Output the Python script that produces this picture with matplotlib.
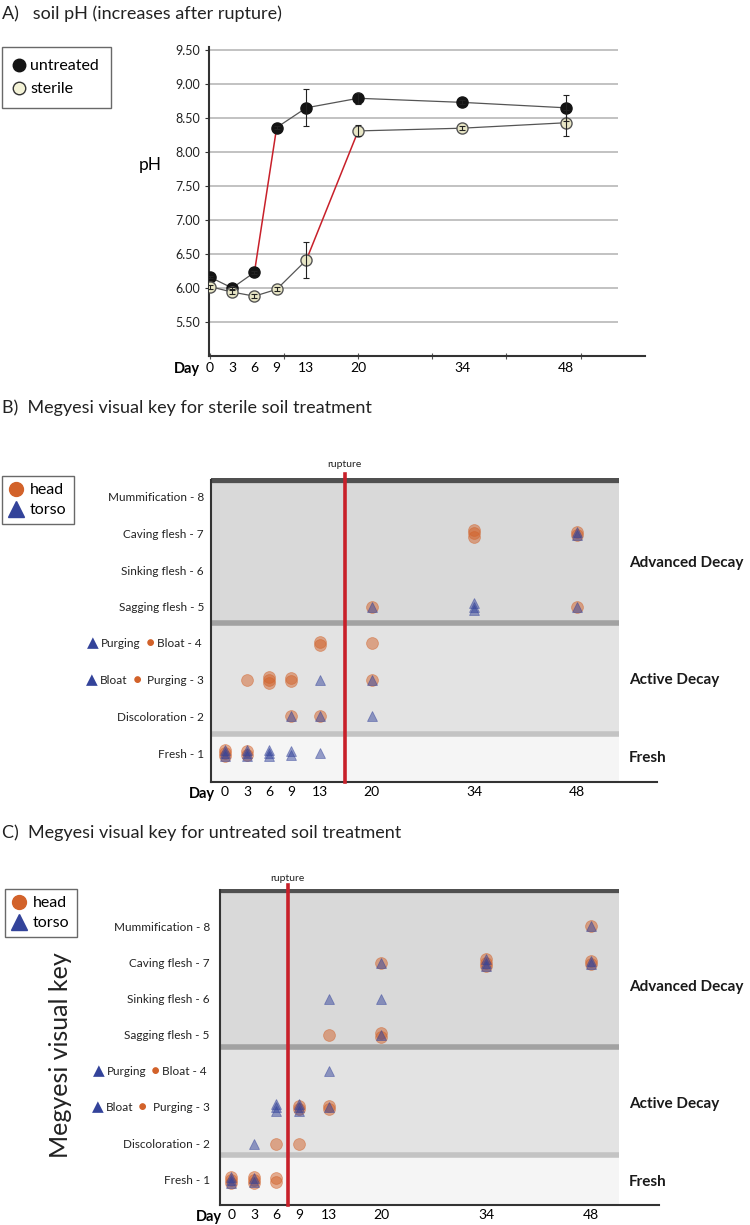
import numpy as np
import matplotlib
matplotlib.use("Agg")
import matplotlib.pyplot as plt
from matplotlib.lines import Line2D
from matplotlib.patches import Rectangle
from matplotlib.offsetbox import TextArea, HPacker, AnnotationBbox

plt.rcParams['font.family'] = ['Lato', 'DejaVu Sans']

# ---- panel A: soil pH ----
days = [0, 3, 6, 9, 13, 20, 34, 48]
ph_untreated = [6.16, 6.00, 6.23, 8.36, 8.65, 8.79, 8.73, 8.65]
ph_untreated_err = [0.02, 0.02, 0.02, 0.02, 0.27, 0.08, 0.03, 0.19]
ph_sterile = [6.02, 5.94, 5.88, 5.98, 6.41, 8.31, 8.35, 8.43]
ph_sterile_err = [0.03, 0.03, 0.03, 0.03, 0.26, 0.08, 0.03, 0.19]
ph_ticks = [5.50, 6.00, 6.50, 7.00, 7.50, 8.00, 8.50, 9.00, 9.50]
day_labels = ['0', '3', '6', '9', '13', '20', '34', '48']

# rupture day for each treatment
rupture_sterile = 16.3
rupture_untreated = 7.5

# ---- panels B/C: Megyesi stage observations (day, stage, n) ----
stage_rows = [1, 2, 5, 6, 7, 8]
stage_names = ['Fresh - 1', 'Discoloration - 2', 'Sagging flesh - 5',
               'Sinking flesh - 6', 'Caving flesh - 7', 'Mummification - 8']

sterile_head = [(0, 1, 3), (3, 1, 2), (3, 3, 1), (6, 3, 3), (9, 3, 2), (9, 2, 1),
                (13, 4, 2), (13, 2, 1), (20, 5, 1), (20, 4, 1), (20, 3, 1),
                (34, 7, 3), (48, 7, 2), (48, 5, 1)]
sterile_torso = [(0, 1, 3), (3, 1, 3), (6, 1, 3), (9, 1, 2), (9, 2, 1),
                 (13, 1, 1), (13, 2, 1), (13, 3, 1), (20, 5, 1), (20, 3, 1), (20, 2, 1),
                 (34, 5, 3), (48, 7, 2), (48, 5, 1)]
untreated_head = [(0, 1, 3), (3, 1, 3), (6, 1, 2), (6, 2, 1), (9, 3, 2), (9, 2, 1),
                  (13, 5, 1), (13, 3, 2), (20, 7, 1), (20, 5, 2),
                  (34, 7, 3), (48, 8, 1), (48, 7, 2)]
untreated_torso = [(0, 1, 3), (3, 1, 2), (3, 2, 1), (6, 3, 3), (9, 3, 3),
                   (13, 6, 1), (13, 4, 1), (13, 3, 1), (20, 7, 1), (20, 6, 1), (20, 5, 1),
                   (34, 7, 3), (48, 8, 1), (48, 7, 2)]

HEAD = '#d2622a'
TORSO = '#33439a'
RED = '#c8202a'

W, H = 750, 1225
fig = plt.figure(figsize=(W / 100, H / 100), dpi=100)


def px_axes(left, top, right, bottom):
    return fig.add_axes([left / W, 1 - bottom / H, (right - left) / W, (bottom - top) / H])


def day_axis(ax, pad):
    ax.xaxis.remove_overlapping_locs = False
    ax.set_xticks(days, day_labels, minor=True)
    ax.tick_params(axis='x', which='minor', length=0, pad=pad, labelsize=10)
    ax.annotate('Day', xy=(0, 0), xycoords=('data', 'axes fraction'),
                xytext=(-7, -pad - 0.5), textcoords='offset points',
                ha='right', va='top', fontsize=10.5, fontweight='bold')


# ================= A =================
fig.text(2 / W, 1 - 14 / H, 'A)   soil pH (increases after rupture)', fontsize=13,
         va='center', ha='left', color='#222')
axA = px_axes(209, 46.6, 645, 356)
axA.set_xlim(-0.13, 58.7)
axA.set_ylim(5.0, 9.55)
for s in ['top', 'right']:
    axA.spines[s].set_visible(False)
for s in ['left', 'bottom']:
    axA.spines[s].set_linewidth(1.5)
    axA.spines[s].set_color('#333')
axA.hlines(ph_ticks, 0, 55, color='#bdbdbd', lw=1.3, zorder=0)
axA.set_yticks(ph_ticks, [f'{v:.2f}' for v in ph_ticks])
axA.tick_params(axis='y', length=3, labelsize=9, colors='#333', labelcolor='#222')
axA.set_xticks(range(0, 51, 10), [''] * 6)
axA.tick_params(axis='x', which='major', direction='inout', length=4, color='#555')
day_axis(axA, 4)
fig.text(150 / W, 1 - 165 / H, 'pH', fontsize=12.5, ha='center', va='center')

for vals, errs, rupt, fc, ec in [(ph_untreated, ph_untreated_err, rupture_untreated, '#141414', '#141414'),
                                 (ph_sterile, ph_sterile_err, rupture_sterile, '#e9e7c6', '#555')]:
    for i in range(len(days) - 1):
        c = RED if days[i] < rupt < days[i + 1] else '#555'
        axA.plot(days[i:i + 2], vals[i:i + 2], color=c, lw=1.1 if c == RED else 0.9, zorder=2)
    axA.plot(days, vals, ls='', marker='o', ms=8, mfc=fc, mec=ec, mew=1.0, zorder=3)
    axA.errorbar(days, vals, yerr=errs, fmt='none', ecolor='#222', elinewidth=0.8,
                 capsize=2.5, capthick=0.8, zorder=4)

legA = fig.legend(handles=[Line2D([], [], ls='', marker='o', ms=9, mfc='#141414', mec='#141414'),
                           Line2D([], [], ls='', marker='o', ms=9, mfc='#f3f2d6', mec='#333')],
                  labels=['untreated', 'sterile'], loc='upper left',
                  bbox_to_anchor=(2 / W, 1 - 47 / H), fontsize=11.5, frameon=True, fancybox=False,
                  edgecolor='#444', handlelength=0.6, handletextpad=0.4, borderpad=0.75,
                  labelspacing=0.55, borderaxespad=0)
legA.get_frame().set_linewidth(1.0)


# ================= B / C =================
def label_row(ax, row, parts, xoff):
    boxes = [TextArea(t, textprops=dict(color=c, fontsize=fs)) for t, c, fs in parts]
    pack = HPacker(children=boxes, align='baseline', pad=0, sep=1.5)
    ab = AnnotationBbox(pack, (0, row), xycoords=('axes fraction', 'data'),
                        xybox=(xoff, 0), boxcoords='offset points',
                        box_alignment=(1, 0.5), frameon=False)
    ax.add_artist(ab)


def draw_obs(ax, obs, marker, color, ms, z):
    for day, stage, n in obs:
        offs = (np.arange(n) - (n - 1) / 2) * 0.09
        ax.plot([day] * n, stage + offs, ls='', marker=marker, ms=ms, mfc=color,
                mec=color, mew=0.6, alpha=0.5, zorder=z)


def decay_panel(ax, x0, xfill, xend, y0, top, sep_hi, sep_lo, rupt, head, torso,
                xlab, yadv, yact, yfr, xoff, rup_dy):
    ax.set_xlim(x0, xend)
    ax.set_ylim(y0, top + 0.04)
    for s in ['top', 'right']:
        ax.spines[s].set_visible(False)
    for s in ['left', 'bottom']:
        ax.spines[s].set_linewidth(1.5)
        ax.spines[s].set_color('#333')
    ax.spines['left'].set_bounds(y0, top)
    ax.add_patch(Rectangle((x0, sep_hi), xfill - x0, top - sep_hi, color='#d9d9d9', lw=0, zorder=0))
    ax.add_patch(Rectangle((x0, sep_lo), xfill - x0, sep_hi - sep_lo, color='#e3e3e3', lw=0, zorder=0))
    ax.add_patch(Rectangle((x0, y0), xfill - x0, sep_lo - y0, color='#f5f5f5', lw=0, zorder=0))
    ax.hlines(sep_hi, x0, xfill, color='#a2a2a2', lw=4, zorder=1)
    ax.hlines(sep_lo, x0, xfill, color='#c3c3c3', lw=4, zorder=1)
    ax.hlines(top, x0, xfill, color='#505050', lw=4.5, zorder=1)
    ax.plot([rupt, rupt], [y0, top + 0.15], color=RED, lw=2.6, zorder=3, clip_on=False)
    ax.text(rupt, top + rup_dy, 'rupture', fontsize=7.5, ha='center', va='center', color='#222')
    ax.set_yticks(stage_rows, stage_names)
    ax.tick_params(axis='y', length=0, pad=-xoff, labelsize=8.5, labelcolor='#222')
    ax.set_xticks([])
    day_axis(ax, 3)
    label_row(ax, 4, [('▲', TORSO, 11), ('Purging', '#222', 8.5), (' ●', HEAD, 10),
                      ('Bloat - 4', '#222', 8.5)], xoff - 2)
    label_row(ax, 3, [('▲', TORSO, 11), ('Bloat', '#222', 8.5), (' ● ', HEAD, 10),
                      ('Purging - 3', '#222', 8.5)], xoff)
    draw_obs(ax, head, 'o', HEAD, 8.5, 4)
    draw_obs(ax, torso, '^', TORSO, 6.5, 5)
    for txt, y in [('Advanced Decay', yadv), ('Active Decay', yact), ('Fresh', yfr)]:
        ax.text(xlab, y, txt, fontsize=11, fontweight='bold', ha='left', va='center', color='#1a1a1a')


def hl_legend(top, left):
    leg = fig.legend(handles=[Line2D([], [], ls='', marker='o', ms=10, mfc=HEAD, mec=HEAD),
                              Line2D([], [], ls='', marker='^', ms=11, mfc=TORSO, mec=TORSO)],
                     labels=['head', 'torso'], loc='upper left',
                     bbox_to_anchor=(left / W, 1 - top / H), fontsize=11.5, frameon=True,
                     fancybox=False, edgecolor='#444', handlelength=0.8, handletextpad=0.5,
                     borderpad=0.45, labelspacing=0.35, borderaxespad=0)
    leg.get_frame().set_linewidth(1.0)


# B: sterile
fig.text(2 / W, 1 - 408 / H, 'B)  Megyesi visual key for sterile soil treatment', fontsize=13,
         va='center', ha='left', color='#222')
axB = px_axes(211, 478.5, 657, 782.3)
decay_panel(axB, -1.91, 53.7, 58.9, 0.2, 8.46, 4.55, 1.52, rupture_sterile,
            sterile_head, sterile_torso, 55.1, 6.2, 3.0, 0.86, -5, 0.42)
hl_legend(476, 2)

# C: untreated
fig.text(2 / W, 1 - 833 / H, 'C)  Megyesi visual key for untreated soil treatment', fontsize=13,
         va='center', ha='left', color='#222')
axC = px_axes(219.5, 888.6, 659, 1205.3)
decay_panel(axC, -1.6, 51.7, 57.1, 0.3, 9.0, 4.67, 1.69, rupture_untreated,
            untreated_head, untreated_torso, 53.1, 6.33, 3.1, 0.95, -7, 0.32)
hl_legend(889, 5)
fig.text(60 / W, 1 - 1055 / H, 'Megyesi visual key', rotation=90, fontsize=18,
         ha='center', va='center', color='#222')

fig.savefig('out.png', dpi=100)
